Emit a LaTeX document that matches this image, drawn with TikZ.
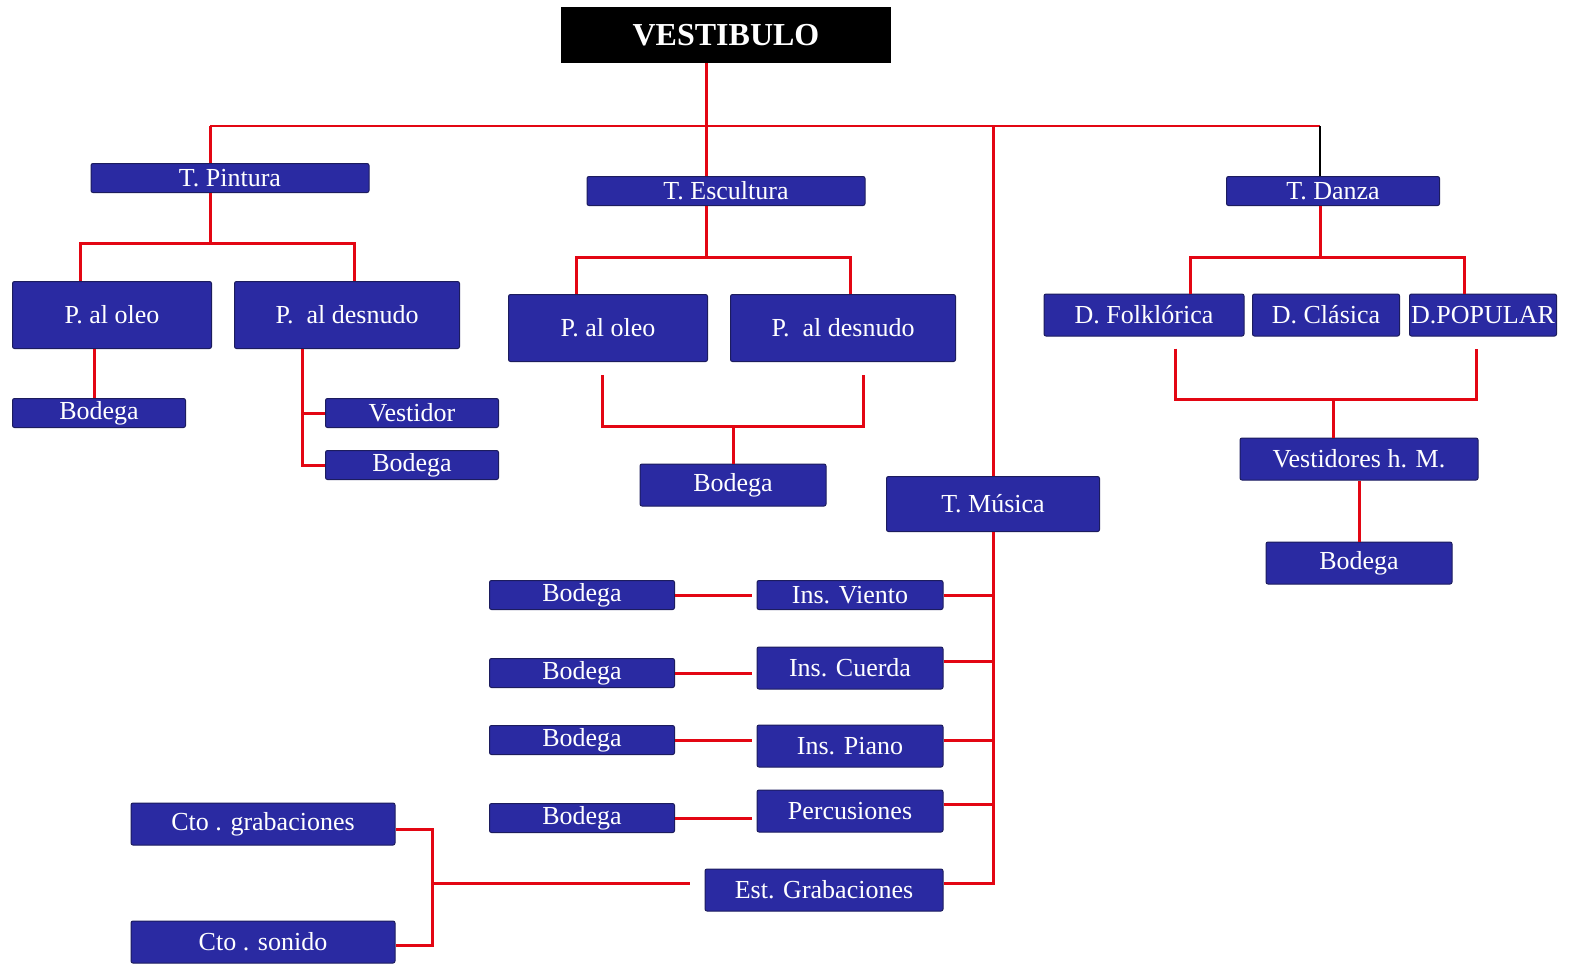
\documentclass[tikz,border=0pt]{standalone}
\usepackage{fontspec}
\setmainfont{Liberation Serif}
\usepackage{xcolor}
\usepackage{tikz}
\usetikzlibrary{positioning}
\definecolor{boxblue}{HTML}{2A2AA2}
\definecolor{boxedge}{HTML}{1C1C5E}
\definecolor{linkred}{HTML}{E30613}

\begin{document}
\begin{tikzpicture}[
  x=0.5pt,y=-0.5pt,
  box/.style={draw=boxedge,line width=0.5pt,fill=boxblue,rounded corners=1pt,inner sep=0pt,align=center,text=white,font=\fontsize{13}{14}\selectfont},
  sz/.style 2 args={minimum width=#1*0.5pt,minimum height=#2*0.5pt},
  title/.style={fill=black,inner sep=0pt,text=white,font=\fontsize{16}{18}\selectfont\bfseries},
  link/.style={draw=linkred,line width=1.5pt},
  buslink/.style={draw=linkred,line width=1.2pt},
  blacklink/.style={draw=black,line width=0.6pt}
]
  \useasboundingbox (0,0) rectangle (1572,965);

  \node[title,sz={330}{56}] (vest) at (726,35) {VESTIBULO};

  \node[box,sz={278}{29}] (pin) at (230,178) {T. Pintura};
  \node[box,sz={278}{29}] (esc) at (726,191) {T. Escultura};
  \node[box,sz={213}{29}] (dan) at (1333,191) {T. Danza};
  \node[box,sz={213}{55}] (mus) at (993,504) {T. Música};

  \node[box,sz={199}{67}] (poleo) at (112,315) {P. al oleo};
  \node[box,sz={225}{67}] (pdes) at (347,315) {P.\ \ al desnudo};
  \node[box,sz={173}{29}] (pbod) at (99,413) {Bodega};
  \node[box,sz={173}{29}] (pvest) at (412,413) {Vestidor};
  \node[box,sz={173}{29}] (pbod2) at (412,465) {Bodega};

  \node[box,sz={199}{67}] (eoleo) at (608,328) {P. al oleo};
  \node[box,sz={225}{67}] (edes) at (843,328) {P.\ \ al desnudo};
  \node[box,sz={186}{42}] (ebod) at (733,485) {Bodega};

  \node[box,sz={200}{42}] (dfol) at (1144,315) {D. Folklórica};
  \node[box,sz={147}{42}] (dcla) at (1326,315) {D. Clásica};
  \node[box,sz={147}{42}] (dpop) at (1483,315) {D.POPULAR};
  \node[box,sz={238}{42}] (dvest) at (1359,459) {Vestidores h. M.};
  \node[box,sz={186}{42}] (dbod) at (1359,563) {Bodega};

  \node[box,sz={186}{29}] (iv) at (850,595) {Ins. Viento};
  \node[box,sz={186}{42}] (icu) at (850,668) {Ins. Cuerda};
  \node[box,sz={186}{42}] (ipi) at (850,746) {Ins. Piano};
  \node[box,sz={186}{42}] (iper) at (850,811) {Percusiones};
  \node[box,sz={238}{42}] (estg) at (824,890) {Est. Grabaciones};
  \node[box,sz={185}{29}] (mb1) at (582,595) {Bodega};
  \node[box,sz={185}{29}] (mb2) at (582,673) {Bodega};
  \node[box,sz={185}{29}] (mb3) at (582,740) {Bodega};
  \node[box,sz={185}{29}] (mb4) at (582,818) {Bodega};

  \node[box,sz={264}{42}] (cgra) at (263,824) {Cto . grabaciones};
  \node[box,sz={264}{42}] (cson) at (263,942) {Cto . sonido};

  \coordinate (busL) at (210,126);
  \coordinate (busR) at (1320,126);
  \coordinate (ebus) at (733,426);
  \coordinate (dbus) at (1333,399);
  \coordinate (cbus) at (432,883);

  \draw[buslink] (busL) -- (busR);
  \draw[link] ([xshift=-10pt]vest.south) -- ([xshift=-10pt]esc.north);
  \draw[link] (busL) -- ([xshift=-10pt]pin.north);
  \draw[link] (mus.north |- busL) -- (mus.north);
  \draw[blacklink] (busR) -- ([xshift=-6.5pt]dan.north);

  \draw[link] ([xshift=-10pt]pin.south) -- ++(0,50) -| ([xshift=-16pt]poleo.north);
  \draw[link] ([xshift=-10pt]pin.south) -- ++(0,50) -| ([xshift=3.5pt]pdes.north);
  \draw[link] ([xshift=-9pt]poleo.south) -- ([xshift=-9pt]poleo.south |- pbod.north);
  \draw[link] ([xshift=-22.5pt]pdes.south) |- (pvest.west);
  \draw[link] ([xshift=-22.5pt]pdes.south) |- (pbod2.west);

  \draw[link] ([xshift=-10pt]esc.south) -- ++(0,51) -| ([xshift=-16pt]eoleo.north);
  \draw[link] ([xshift=-10pt]esc.south) -- ++(0,51) -| ([xshift=3.5pt]edes.north);
  \draw[link] ([xshift=-3pt,yshift=-6.5pt]eoleo.south) |- (ebus) -| ([xshift=10pt,yshift=-6.5pt]edes.south);
  \draw[link] (ebus) -- (ebod.north);

  \draw[link] ([xshift=-6.5pt]dan.south) -- ++(0,51) -| ([xshift=23pt]dfol.north);
  \draw[link] ([xshift=-6.5pt]dan.south) -- ++(0,51) -| ([xshift=-9.5pt]dpop.north);
  \draw[link] ([xshift=15.5pt,yshift=-6pt]dfol.south) |- (dbus) -| ([xshift=-3.5pt,yshift=-6pt]dpop.south);
  \draw[link] (dbus) -- (dbus |- dvest.north);
  \draw[link] (dvest) -- (dbod);

  \draw[link] (mus.south) |- ([yshift=3.5pt]estg.east);
  \draw[link] (iv.east) -- ++(50,0);
  \draw[link] ([yshift=3.5pt]icu.east) -- ++(50,0);
  \draw[link] ([yshift=3pt]ipi.east) -- ++(50,0);
  \draw[link] ([yshift=3.5pt]iper.east) -- ++(50,0);
  \draw[link] (mb1.east) -- ++(77,0);
  \draw[link] (mb2.east) -- ++(77,0);
  \draw[link] (mb3.east) -- ++(77,0);
  \draw[link] (mb4.east) -- ++(77,0);

  \draw[link] ([xshift=-7.5pt,yshift=3.5pt]estg.west) -- (cbus);
  \draw[link] ([yshift=-2.5pt]cgra.east) -| (cbus);
  \draw[link] ([yshift=-1.5pt]cson.east) -| (cbus);
\end{tikzpicture}
\end{document}
